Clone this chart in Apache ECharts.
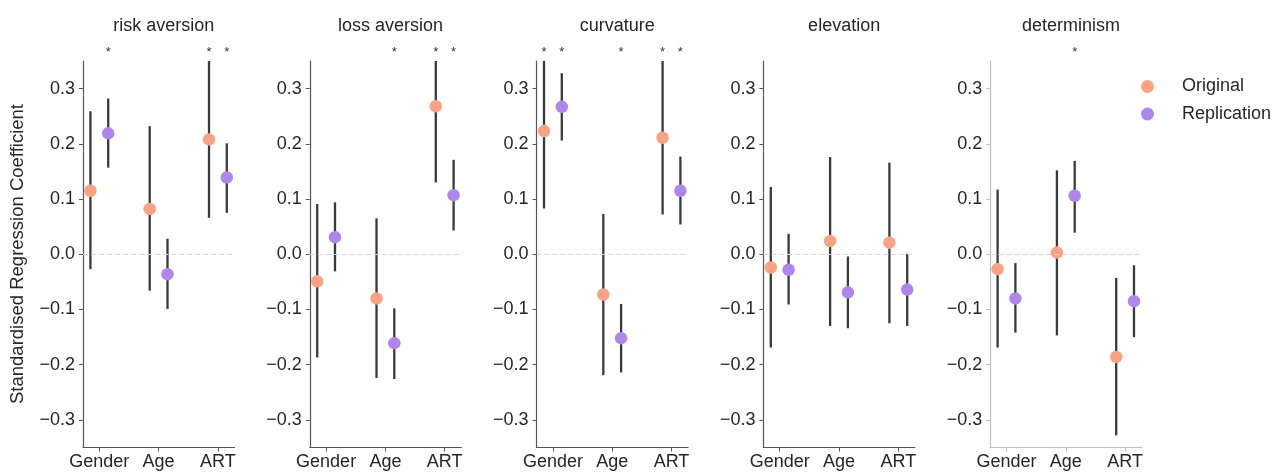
<!DOCTYPE html>
<html>
<head>
<meta charset="utf-8">
<script src="https://cdn.jsdelivr.net/npm/echarts@6/dist/echarts.min.js"></script>
<style>
html,body{margin:0;padding:0;background:#fff;}
#chart{width:1284px;height:472px;}
</style>
</head>
<body>
<div id="chart"></div>
<script>
// ---------------- data ----------------
const panels = ['risk aversion', 'loss aversion', 'curvature', 'elevation', 'determinism'];
const categories = ['Gender', 'Age', 'ART'];
const yTicks = [-0.3, -0.2, -0.1, 0.0, 0.1, 0.2, 0.3];

const origMean = [[0.115, 0.082, 0.208], [-0.049, -0.080, 0.268], [0.223, -0.073, 0.211], [-0.024, 0.024, 0.021], [-0.027, 0.003, -0.186]];
const origLow  = [[-0.027, -0.066, 0.066], [-0.187, -0.224, 0.130], [0.083, -0.219, 0.072], [-0.169, -0.130, -0.125], [-0.169, -0.147, -0.328]];
const origHigh = [[0.259, 0.232, 0.35], [0.091, 0.065, 0.35], [0.35, 0.073, 0.35], [0.122, 0.176, 0.166], [0.117, 0.152, -0.043]];

const repMean = [[0.219, -0.036, 0.139], [0.031, -0.161, 0.107], [0.267, -0.152, 0.115], [-0.028, -0.069, -0.064], [-0.080, 0.106, -0.085]];
const repLow  = [[0.157, -0.099, 0.075], [-0.031, -0.226, 0.043], [0.206, -0.214, 0.054], [-0.091, -0.134, -0.130], [-0.142, 0.039, -0.150]];
const repHigh = [[0.282, 0.028, 0.201], [0.094, -0.098, 0.171], [0.328, -0.090, 0.177], [0.037, -0.004, 0.001], [-0.016, 0.169, -0.020]];

// significance flags (1 = asterisk above)
const origSig = [[0, 0, 1], [0, 0, 1], [1, 0, 1], [0, 0, 0], [0, 0, 0]];
const repSig  = [[1, 0, 1], [0, 1, 1], [1, 1, 1], [0, 0, 0], [0, 1, 0]];

// ---------------- layout / style ----------------
const FONT = "'Liberation Sans', Arial, sans-serif";
const ORANGE = '#FAA384';
const PURPLE = '#AF87EC';
const DODGE = 0.15;
const GRID_LEFT0 = 83, GRID_STEP = 226.8, GRID_W = 151.5, GRID_TOP = 61, GRID_H = 386.5;

const fmtY = v => {
  const s = Math.abs(v).toFixed(1);
  return v < -1e-9 ? '\u2212' + s : s;
};

const grids = [], xAxes = [], yAxes = [], titles = [], series = [];

panels.forEach((name, i) => {
  const left = GRID_LEFT0 + i * GRID_STEP;
  const axisColor = i === 4 ? '#bdbdbd' : '#555';
  grids.push({ left: left, top: GRID_TOP, width: GRID_W, height: GRID_H, containLabel: false });
  titles.push({
    text: name, left: left + GRID_W / 2, top: 12, textAlign: 'center',
    textStyle: { fontFamily: FONT, fontSize: 18, fontWeight: 'normal', color: '#262626' }
  });
  xAxes.push({
    type: 'value', gridIndex: i, min: -0.275, max: 2.28,
    axisLine: { show: true, onZero: false, lineStyle: { color: axisColor, width: 1.2 } },
    axisTick: { show: true, length: 4, customValues: [0, 1, 2], lineStyle: { color: axisColor } },
    axisLabel: {
      show: true, customValues: [0, 1, 2], margin: 6,
      formatter: v => categories[Math.round(v)],
      fontFamily: FONT, fontSize: 18, color: '#262626'
    },
    splitLine: { show: false }
  });
  yAxes.push({
    type: 'value', gridIndex: i, min: -0.35, max: 0.35,
    axisLine: { show: true, onZero: false, lineStyle: { color: axisColor, width: 1.2 } },
    axisTick: { show: true, length: 4, customValues: yTicks, lineStyle: { color: axisColor } },
    axisLabel: {
      show: true, customValues: yTicks, margin: 8,
      formatter: fmtY, fontFamily: FONT, fontSize: 18, color: '#262626'
    },
    splitLine: { show: false }
  });

  const groups = [
    { label: 'Original', mean: origMean[i], low: origLow[i], high: origHigh[i], sig: origSig[i], off: -DODGE, color: ORANGE },
    { label: 'Replication', mean: repMean[i], low: repLow[i], high: repHigh[i], sig: repSig[i], off: DODGE, color: PURPLE }
  ];

  groups.forEach((g, gi) => {
    // error bars
    series.push({
      type: 'custom', xAxisIndex: i, yAxisIndex: i, z: 2, silent: true,
      encode: { x: 0, y: [1, 2] },
      data: categories.map((c, j) => [j + g.off, g.low[j], g.high[j]]),
      renderItem: (params, api) => {
        const p1 = api.coord([api.value(0), api.value(1)]);
        const p2 = api.coord([api.value(0), api.value(2)]);
        return {
          type: 'line',
          shape: { x1: p1[0], y1: p1[1], x2: p2[0], y2: p2[1] },
          style: { stroke: '#3a3a3a', lineWidth: 2.3 }
        };
      }
    });
    // points
    const sc = {
      type: 'scatter', name: g.label, xAxisIndex: i, yAxisIndex: i, z: 3,
      symbol: 'circle', symbolSize: 12.5,
      itemStyle: { color: g.color, opacity: 1 },
      data: categories.map((c, j) => [j + g.off, g.mean[j]])
    };
    if (gi === 0) {
      sc.markLine = {
        silent: true, symbol: 'none', label: { show: false }, animation: false,
        lineStyle: { type: [5, 3], color: '#d6d6d6', width: 1 },
        data: [{ yAxis: 0 }]
      };
    }
    series.push(sc);
    // significance asterisks
    const sigData = [];
    categories.forEach((c, j) => { if (g.sig[j]) sigData.push([j + g.off, 0.35]); });
    if (sigData.length) {
      series.push({
        type: 'custom', xAxisIndex: i, yAxisIndex: i, z: 4, silent: true,
        encode: { x: 0, y: 1 },
        data: sigData,
        renderItem: (params, api) => {
          const p = api.coord([api.value(0), api.value(1)]);
          return {
            type: 'text', x: p[0], y: p[1] - 9,
            style: { text: '*', textAlign: 'center', textVerticalAlign: 'middle', fontFamily: FONT, fontSize: 13, fill: '#333' }
          };
        }
      });
    }
  });
});

const chart = echarts.init(document.getElementById('chart'), null, { renderer: 'canvas' });
chart.setOption({
  animation: false,
  backgroundColor: '#ffffff',
  title: titles,
  grid: grids,
  xAxis: xAxes,
  yAxis: yAxes,
  legend: {
    data: ['Original', 'Replication'],
    orient: 'vertical', left: 1141, top: 77.5, padding: 0,
    icon: 'circle', itemWidth: 13, itemHeight: 13, itemGap: 9.5,
    textStyle: { fontFamily: FONT, fontSize: 18, color: '#262626', padding: [0, 0, 0, 23], lineHeight: 14 }
  },
  graphic: [{
    type: 'text', x: 18, y: 254, rotation: Math.PI / 2,
    style: {
      text: 'Standardised Regression Coefficient', textAlign: 'center', textVerticalAlign: 'middle',
      fontFamily: FONT, fontSize: 18.5, fill: '#262626'
    }
  }],
  series: series
});
</script>
</body>
</html>
